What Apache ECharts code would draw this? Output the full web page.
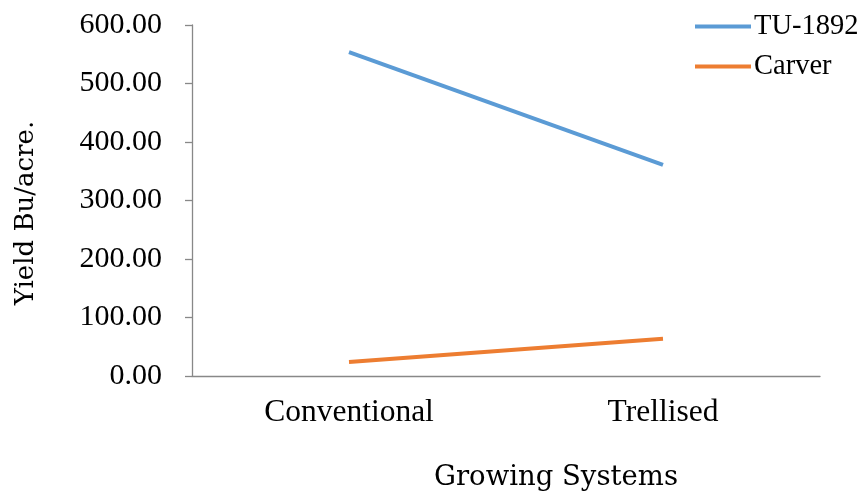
<!DOCTYPE html>
<html><head><meta charset="utf-8">
<script src="https://cdn.jsdelivr.net/npm/echarts@6/dist/echarts.min.js"></script>
<style>html,body{margin:0;padding:0;background:#fff}#c{width:865px;height:498px}</style>
</head><body><div id="c"></div>
<script>
const categories = ["Conventional", "Trellised"];
const tu1892 = [553.5, 361];
const carver = [24, 63.5];
const yTicks = [0, 100, 200, 300, 400, 500, 600];

const font = "'Liberation Serif', 'Times New Roman', serif";
const font2 = "'DejaVu Serif', serif";
const chart = echarts.init(document.getElementById('c'));
chart.setOption({
  animation: false,
  backgroundColor: '#fff',
  grid: { left: 192, right: 45, top: 25, bottom: 122, containLabel: false, outerBoundsMode: 'none' },
  legend: {
    orient: 'vertical', left: 690, top: 7,
    itemWidth: 56, itemHeight: 4, itemGap: 11,
    icon: 'rect',
    textStyle: { fontFamily: font, fontSize: 28.5, color: '#000', padding: [0,0,0,-2] },
    data: ['TU-1892', 'Carver']
  },
  xAxis: {
    type: 'category', data: categories, boundaryGap: true,
    name: 'Growing Systems', nameLocation: 'middle', nameGap: 88,
    nameTextStyle: { fontFamily: font2, fontSize: 27.5, color: '#000', padding: [0, 0, 0, 100] },
    axisLine: { lineStyle: { color: '#888', width: 1.3 } },
    axisTick: { length: 8, lineStyle: { color: '#888', width: 1.3 } },
    axisLabel: { fontFamily: font, fontSize: 31.5, color: '#000', margin: 21 }
  },
  yAxis: {
    type: 'value', min: yTicks[0], max: yTicks[yTicks.length-1], interval: 100,
    axisLine: { show: true, lineStyle: { color: '#888', width: 1.3 } },
    axisTick: { show: true, length: 7, lineStyle: { color: '#888', width: 1.3 } },
    splitLine: { show: false },
    axisLabel: { fontFamily: font, fontSize: 30, color: '#000', margin: 30,
      formatter: v => v.toFixed(2) }
  },
  graphic: [{
    type: 'text', x: 26, y: 213, rotation: Math.PI / 2,
    style: { text: 'Yield Bu/acre.', fontFamily: font2, fontSize: 26, fill: '#000',
      align: 'center', verticalAlign: 'middle' }
  }],
  series: [
    { name: 'TU-1892', type: 'line', data: tu1892, symbol: 'none',
      lineStyle: { color: '#5B9BD5', width: 4 }, itemStyle: { color: '#5B9BD5' } },
    { name: 'Carver', type: 'line', data: carver, symbol: 'none',
      lineStyle: { color: '#ED7D31', width: 4 }, itemStyle: { color: '#ED7D31' } }
  ]
});
</script></body></html>
